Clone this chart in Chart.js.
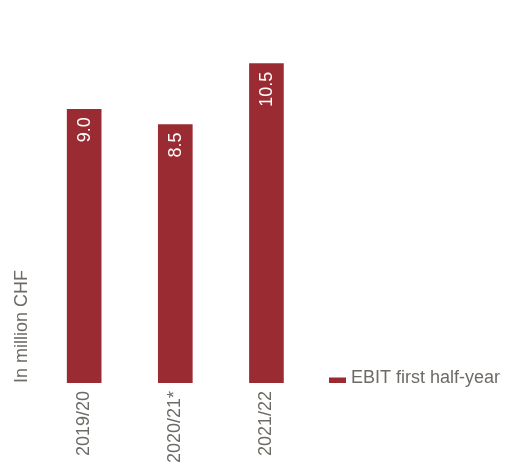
<!DOCTYPE html>
<html>
<head>
<meta charset="utf-8">
<script src="https://cdn.jsdelivr.net/npm/chart.js@4/dist/chart.umd.min.js"></script>
<style>
  body { margin: 0; background: #fff; }
  #wrap { width: 505px; height: 470px; }
</style>
</head>
<body>
<div id="wrap"><canvas id="ebitChart" width="505" height="470"></canvas></div>
<script>
// Chart data
const periods = ['2019/20', '2020/21*', '2021/22'];
const ebitValues = [9.0, 8.5, 10.5];
const seriesName = 'EBIT first half-year';
const axisTitle = 'In million CHF';

const barColor = '#9b2b33';
const textColor = '#6e6b66';
const fontFamily = '"Liberation Sans", Arial, sans-serif';

// Draw the value inside the top of each bar, rotated
const valueLabels = {
    id: 'valueLabels',
    afterDatasetsDraw(chart) {
        const ctx = chart.ctx;
        const meta = chart.getDatasetMeta(0);
        meta.data.forEach((bar, i) => {
            ctx.save();
            ctx.translate(bar.x, bar.y + 8);
            ctx.rotate(-Math.PI / 2);
            ctx.font = '18px ' + fontFamily;
            ctx.fillStyle = '#ffffff';
            ctx.textAlign = 'right';
            ctx.textBaseline = 'middle';
            ctx.fillText(ebitValues[i].toFixed(1), 0, 1);
            ctx.restore();
        });
    }
};

// Legend sitting next to the chart area, on the baseline
const sideLegend = {
    id: 'sideLegend',
    afterDraw(chart) {
        const ctx = chart.ctx;
        const area = chart.chartArea;
        const x = area.right + 17;
        const y = area.bottom;
        ctx.save();
        ctx.fillStyle = barColor;
        ctx.fillRect(x, y - 5.5, 17, 5.5);
        ctx.font = '18px ' + fontFamily;
        ctx.fillStyle = textColor;
        ctx.textAlign = 'left';
        ctx.textBaseline = 'alphabetic';
        ctx.fillText(seriesName, x + 22, y);
        ctx.restore();
    }
};

const ctx = document.getElementById('ebitChart').getContext('2d');
new Chart(ctx, {
    type: 'bar',
    data: {
        labels: periods,
        datasets: [{
            label: seriesName,
            data: ebitValues,
            backgroundColor: barColor,
            borderWidth: 0,
            barThickness: 34
        }]
    },
    options: {
        responsive: false,
        animation: false,
        layout: { padding: { top: 18, left: 11, right: 193, bottom: 0 } },
        plugins: {
            legend: { display: false },
            tooltip: { enabled: false }
        },
        scales: {
            x: {
                grid: { display: false },
                border: { display: false },
                ticks: {
                    color: textColor,
                    font: { size: 18, family: fontFamily },
                    minRotation: 90,
                    maxRotation: 90,
                    padding: 0
                },
                afterFit(scale) {
                    scale.height = 87;
                }
            },
            y: {
                min: 0,
                max: 12,
                grid: { display: false, drawTicks: false },
                border: { display: false },
                ticks: { display: false },
                title: {
                    display: true,
                    text: axisTitle,
                    align: 'start',
                    color: textColor,
                    font: { size: 18, family: fontFamily },
                    padding: { top: 0, bottom: 6 }
                }
            }
        }
    },
    plugins: [valueLabels, sideLegend]
});
</script>
</body>
</html>
